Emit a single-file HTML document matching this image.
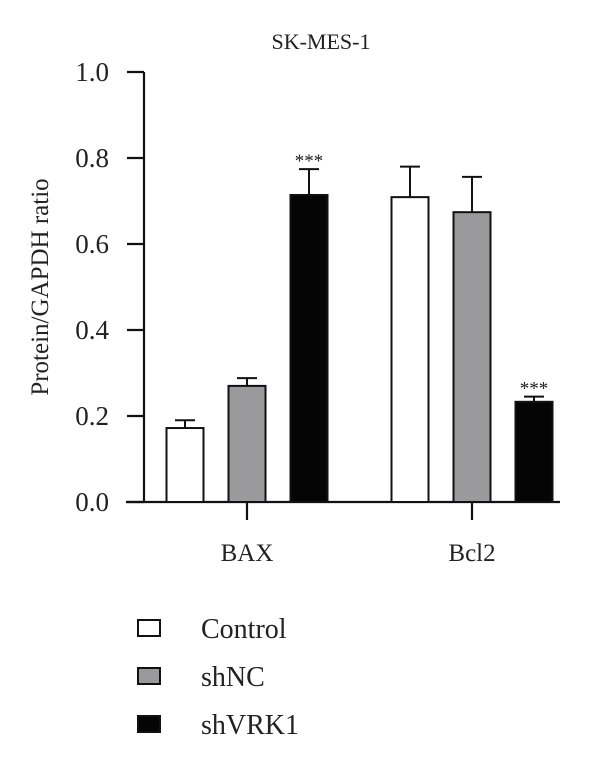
<!DOCTYPE html>
<html><head><meta charset="utf-8"><style>
html,body{margin:0;padding:0;background:#fff;}
svg{display:block;font-family:"Liberation Serif",serif;}
</style></head><body>
<svg width="600" height="759" viewBox="0 0 600 759">
<text x="321" y="49" font-size="22" text-anchor="middle" fill="#222">SK-MES-1</text>
<text transform="translate(48,287) rotate(-90)" font-size="25" text-anchor="middle" fill="#222">Protein/GAPDH ratio</text>
<g id="axes"></g>
<g id="bars"></g>
<g id="legend"></g>
</svg>
<script>
const categories = ["BAX", "Bcl2"];
const seriesNames = ["Control", "shNC", "shVRK1"];
const controlValues = [0.172, 0.709];
const shNCValues = [0.27, 0.674];
const shVRK1Values = [0.714, 0.233];
const controlErr = [0.018, 0.071];
const shNCErr = [0.018, 0.082];
const shVRK1Err = [0.06, 0.012];
const shVRK1Sig = ["***", "***"];
const yTicks = [0, 0.2, 0.4, 0.6, 0.8, 1.0];
const yTickLabels = ["0.0", "0.2", "0.4", "0.6", "0.8", "1.0"];

const NS = "http://www.w3.org/2000/svg";
const fills = ["#ffffff", "#9a9a9c", "#050505"];
function y(v){ return 502 - v * 430; }
const groupCenter = [247, 472];
const offsets = [-62, 0, 62];
const barW = 37;
function mk(tag, attrs, parent){
  const e = document.createElementNS(NS, tag);
  for (const k in attrs) e.setAttribute(k, attrs[k]);
  parent.appendChild(e); return e;
}
const axes = document.getElementById("axes");
const ax = mk("line", {x1:144, y1:y(1), x2:144, y2:y(0)+1, stroke:"#111", "stroke-width":2.2}, axes);


const xl = mk("line", {x1:126, y1:y(0), x2:560, y2:y(0), stroke:"#111", "stroke-width":2.2}, axes);


yTicks.forEach((t,i)=>{
  const tk = mk("line", {x1:127, y1:y(t), x2:144, y2:y(t), stroke:"#111", "stroke-width":2.2}, axes);
  
  
  const tl = mk("text", {x:109, y:y(t)+9, "font-size":27, "text-anchor":"end", fill:"#222"}, axes);
  tl.textContent = yTickLabels[i];
  
  
});
categories.forEach((c,i)=>{
  const tk = mk("line", {x1:groupCenter[i], y1:y(0), x2:groupCenter[i], y2:y(0)+18, stroke:"#111", "stroke-width":2.2}, axes);
  
  
  const tl = mk("text", {x:groupCenter[i], y:561, "font-size":25, "text-anchor":"middle", fill:"#222"}, axes);
  tl.textContent = c;
  
  
});
const bars = document.getElementById("bars");
const series = [controlValues, shNCValues, shVRK1Values];
const errs = [controlErr, shNCErr, shVRK1Err];
series.forEach((vals, s)=>{
  vals.forEach((v, i)=>{
    const cx = groupCenter[i] + offsets[s];
    const top = y(v + errs[s][i]);
    const el = mk("line", {x1:cx, y1:y(v), x2:cx, y2:top, stroke:"#111", "stroke-width":2}, bars);
    
    
    const cap = mk("line", {x1:cx-10, y1:top, x2:cx+10, y2:top, stroke:"#111", "stroke-width":2}, bars);
    
    
    const r = mk("rect", {x:cx-barW/2, y:y(v), width:barW, height:y(0)-y(v), fill:fills[s], stroke:"#111", "stroke-width":2}, bars);
    
    
    if (s === 2 && shVRK1Sig[i]) {
      const st = mk("text", {x:cx, y:top-2, "font-size":19, "text-anchor":"middle", fill:"#222"}, bars);
      st.textContent = shVRK1Sig[i];
      
      
    }
  });
});
const legend = document.getElementById("legend");
seriesNames.forEach((n, s)=>{
  const yy = 620 + s*48;
  const g = mk("g", {}, legend);
  
  
  mk("rect", {x:138, y:yy, width:22, height:16, fill:fills[s], stroke:"#111", "stroke-width":2}, g);
  const t = mk("text", {x:201, y:yy+18, "font-size":28, fill:"#222"}, g);
  t.textContent = n;
});
</script>
</body></html>
